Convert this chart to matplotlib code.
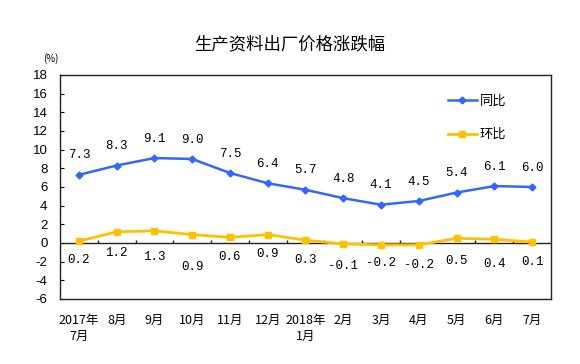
import matplotlib
matplotlib.use("Agg")
import matplotlib.pyplot as plt
import numpy as np

plt.rcParams['font.family'] = ['Noto Sans CJK SC', 'DejaVu Sans']

categories = ["2017年\n7月", "8月", "9月", "10月", "11月", "12月", "2018年\n1月",
              "2月", "3月", "4月", "5月", "6月", "7月"]
yoy = [7.3, 8.3, 9.1, 9.0, 7.5, 6.4, 5.7, 4.8, 4.1, 4.5, 5.4, 6.1, 6.0]
mom = [0.2, 1.2, 1.3, 0.9, 0.6, 0.9, 0.3, -0.1, -0.2, -0.2, 0.5, 0.4, 0.1]
yticks = list(range(-6, 19, 2))

# label placement (style only): y in data units for the 环比 labels
mom_label_y = [-1.8, -1.1, -1.5, -2.55, -1.5, -1.2, -1.8, -2.45, -2.15, -2.35, -1.95, -2.25, -2.05]

blue = '#3366FF'
yellow = '#FFC000'

fig = plt.figure(figsize=(5.8, 3.64), dpi=100)
ax = fig.add_axes([0.1034, 0.1786, 0.8466, 0.6154])

x = np.arange(len(categories))
ax.plot(x, yoy, color=blue, lw=1.8, marker='D', ms=3.5, label='同比', zorder=3)
ax.plot(x, mom, color=yellow, lw=2.0, marker='s', ms=5, label='环比', zorder=3)

ax.set_xlim(-0.5, len(categories) - 0.5)
ax.set_ylim(-6, 18)
ax.set_yticks(yticks)
ax.set_yticklabels([str(v) for v in yticks], family=['Liberation Sans'], fontsize=9.5)
ax.tick_params(axis='y', direction='in', length=3, pad=9, width=0.8)
ax.set_xticks(x)
ax.set_xticklabels(categories, fontsize=9, linespacing=1.3)
ax.tick_params(axis='x', length=0, pad=11)

for s in ax.spines.values():
    s.set_linewidth(1.0)
    s.set_color('#222222')

ax.axhline(0, color='#222222', lw=1.0, zorder=2)
ax.vlines(np.arange(0.5, len(categories) - 0.5), 0, 0.35, color='#222222', lw=1.0, zorder=2)

for xi, v in zip(x, yoy):
    ax.annotate(f"{v:.1f}", (xi, v), xytext=(0, 14), textcoords='offset points',
                ha='center', va='center', fontsize=9, family=['Liberation Mono'])
for xi, v, ly in zip(x, mom, mom_label_y):
    ax.text(xi, ly, f"{v:.1f}", ha='center', va='center', fontsize=9,
            family=['Liberation Mono'])

leg = ax.legend(loc='upper left', bbox_to_anchor=(0.79, 0.912), frameon=False,
                fontsize=9.5, handlelength=2.2, handletextpad=0.2, labelspacing=1.55,
                borderpad=0, borderaxespad=0)

fig.text(0.5, 0.877, "生产资料出厂价格涨跌幅", ha='center', va='center', fontsize=12.5)
fig.text(0.088, 0.84, "(%)", ha='center', va='center', fontsize=7)

fig.savefig('out.png', dpi=100, facecolor='white')
